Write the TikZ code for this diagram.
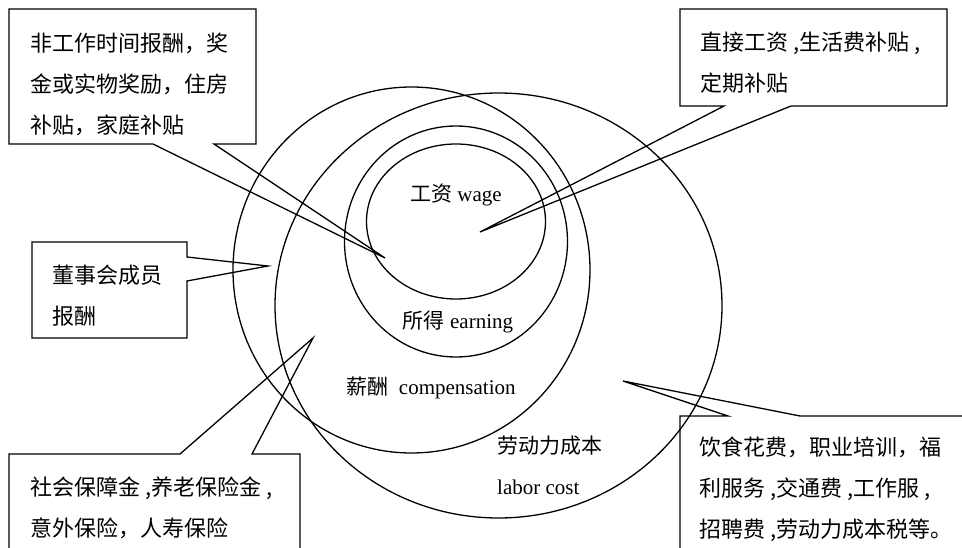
\documentclass[tikz,border=0pt]{standalone}
\usepackage{fontspec}
\setmainfont{Liberation Serif}
\newfontfamily\cjk{Noto Sans CJK SC}
\begin{document}
\begin{tikzpicture}[x=1pt,y=-1pt,
  line/.style={line width=1.3pt, line join=miter},
  ring/.style={line width=1.3pt},
  calltext/.style={anchor=west, inner sep=0pt, align=left, font=\cjk\fontsize{22}{41}\selectfont},
  lbl/.style={inner sep=0pt, font=\fontsize{21}{24}\selectfont}]
\clip (0,0) rectangle (962,548);
% ellipses
\draw[ring] (456,221.5) ellipse [x radius=89.5pt, y radius=77.5pt];
\draw[ring] (456,241.5) ellipse [x radius=111.5pt, y radius=115.5pt];
\draw[ring] (411.5,270) ellipse [x radius=178.5pt, y radius=183pt];
\draw[ring] (498.5,305.5) ellipse [x radius=223.5pt, y radius=212.5pt];
% labels
\node[lbl] (wage) at (456,195) {{\cjk 工资} wage};
\node[lbl] (earning) at (458,322) {{\cjk 所得} earning};
\node[lbl] (comp) at (431,388) {{\cjk 薪酬}\ \ compensation};
\node[lbl, anchor=west] (labor1) at (497,446) {\cjk 劳动力成本};
\node[lbl, anchor=west] (labor2) at (497,487) {labor cost};
% pointer tips
\coordinate (t1) at (385,258);
\coordinate (t2) at (480,232);
\coordinate (t3) at (268,266);
\coordinate (t4) at (313,338);
\coordinate (t5) at (623,381);
% callouts
\draw[line] (9,9) -- (256,9) -- (256,144) -- (214,144) -- (t1) -- (153,144) -- (9,144) -- cycle;
\draw[line] (680,9) -- (947,9) -- (947,106) -- (791,106) -- (t2) -- (724,106) -- (680,106) -- cycle;
\draw[line] (32,242) -- (187,242) -- (187,257) -- (t3) -- (187,281) -- (187,338) -- (32,338) -- cycle;
\draw[line] (9,570) -- (9,454) -- (180,454) -- (t4) -- (252,454) -- (300,454) -- (300,570);
\draw[line] (680,570) -- (680,416) -- (728,416) -- (t5) -- (800,416) -- (975,416);
% callout texts
\node[calltext] (c1) at (30,84) {非工作时间报酬，奖\\金或实物奖励，住房\\补贴，家庭补贴};
\node[calltext] (c2) at (700,63) {直接工资 ,生活费补贴 ,\\定期补贴};
\node[calltext] (c3) at (52,296) {董事会成员\\报酬};
\node[calltext] (c4) at (30,507.5) {社会保障金 ,养老保险金 ,\\意外保险，人寿保险};
\node[calltext] (c5) at (699,489) {饮食花费，职业培训，福\\利服务 ,交通费 ,工作服 ,\\招聘费 ,劳动力成本税等。};
\end{tikzpicture}
\end{document}
